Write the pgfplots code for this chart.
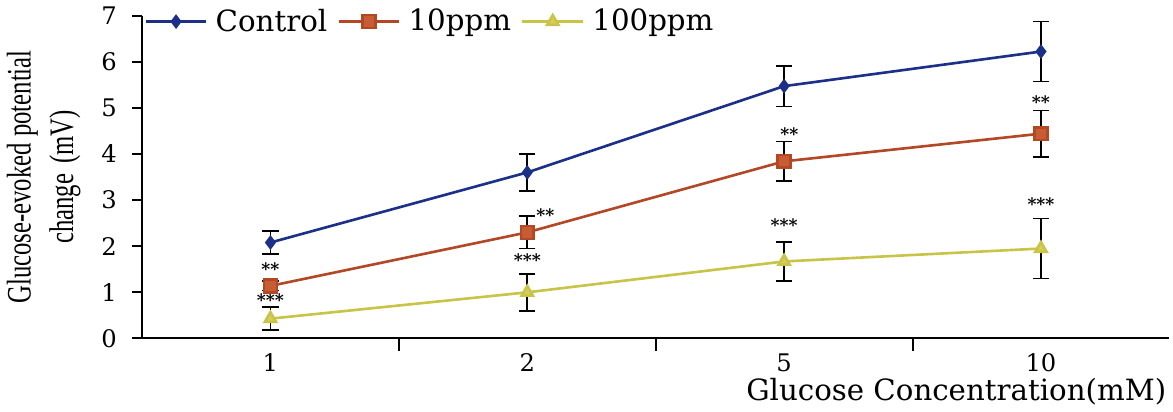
\documentclass[border=0pt]{standalone}
\usepackage{fontspec}
\setmainfont{DejaVu Serif}
\newfontfamily\timesfont{Liberation Serif}
\usepackage{pgfplots}
\pgfplotsset{compat=1.18}
\definecolor{ctrl}{RGB}{28,48,135}
\definecolor{tenline}{RGB}{178,72,38}
\definecolor{tenfill}{RGB}{200,92,52}
\definecolor{hundline}{RGB}{200,196,72}
\definecolor{hundfill}{RGB}{214,206,90}
\begin{document}
\begin{tikzpicture}
\begin{axis}[
  scale only axis, width=509pt, height=160pt,
  xmin=-0.5, xmax=3.5, ymin=0, ymax=7,
  axis x line*=bottom, axis y line*=left,
  axis line style={-, line width=1pt, black},
  xtick={0,1,2,3}, xticklabels={1,2,5,10},
  xtick style={draw=none},
  extra x ticks={0.5,1.5,2.5}, extra x tick labels={},
  extra x tick style={xtick style={draw=black, line width=1pt}, major tick length=6pt},
  ytick={0,1,...,7},
  ytick style={line width=1pt, black},
  major tick length=5pt, tick align=outside,
  /pgf/number format/assume math mode=true,
  yticklabel style={font=\fontsize{12}{12}\selectfont, xshift=-4pt},
  xticklabel style={font=\fontsize{12}{12}\selectfont, yshift=1pt},
  xlabel={Glucose Concentration(mM)},
  xlabel style={at={(rel axis cs:1,0)}, anchor=north east, yshift=-16pt, xshift=2pt, font=\fontsize{14.5}{15}\selectfont},
  ylabel={\scalebox{0.72}[1]{\begin{tabular}{c}Glucose-evoked potential\\[4pt]change\, (mV)\end{tabular}}},
  ylabel style={font=\timesfont\fontsize{17}{17}\selectfont, yshift=2pt},
  legend style={at={(rel axis cs:0,1)}, anchor=west, yshift=-3pt, xshift=-2pt, draw=none, fill=none,
    legend columns=-1, font=\fontsize{14.5}{14.5}\selectfont,
    /tikz/every even column/.append style={column sep=3pt},
    /tikz/every odd column/.append style={column sep=2pt}},
  legend image code/.code={\draw[mark repeat=2,mark phase=2,#1] plot coordinates {(0pt,0pt) (15pt,0pt) (30pt,0pt)};},
  clip=false,
  error bars/y dir=both, error bars/y explicit,
  error bars/error bar style={black, line width=0.9pt},
  error bars/error mark options={rotate=90, mark size=4pt, black, line width=0.9pt},
]
\addplot[ctrl, line width=1.3pt, mark=diamond*, mark size=2.6pt, mark options={fill=ctrl, draw=ctrl}]
  coordinates {(0,2.08) +- (0,0.25) (1,3.6) +- (0,0.4) (2,5.47) +- (0,0.44) (3,6.22) +- (0,0.65)};
\addlegendentry{Control}
\addplot[tenline, line width=1.3pt, mark=square*, mark size=3.2pt, mark options={fill=tenfill, draw=tenline}]
  coordinates {(0,1.14) +- (0,0.1) (1,2.3) +- (0,0.35) (2,3.84) +- (0,0.43) (3,4.44) +- (0,0.5)};
\addlegendentry{10ppm}
\addplot[hundline, line width=1.3pt, mark=triangle*, mark size=3.2pt, mark options={fill=hundfill, draw=hundline}]
  coordinates {(0,0.43) +- (0,0.25) (1,1.0) +- (0,0.4) (2,1.67) +- (0,0.42) (3,1.95) +- (0,0.65)};
\addlegendentry{100ppm}
\begin{scope}[every node/.style={font=\bfseries\fontsize{8.5}{8.5}\selectfont, inner sep=0pt}]
\node at (axis cs:0,1.5) {**};
\node at (axis cs:0,0.83) {***};
\node at (axis cs:1.07,2.68) {**};
\node at (axis cs:1,1.7) {***};
\node at (axis cs:2.02,4.42) {**};
\node at (axis cs:2,2.45) {***};
\node at (axis cs:3,5.12) {**};
\node at (axis cs:3,2.92) {***};
\end{scope}
\end{axis}
\end{tikzpicture}
\end{document}
